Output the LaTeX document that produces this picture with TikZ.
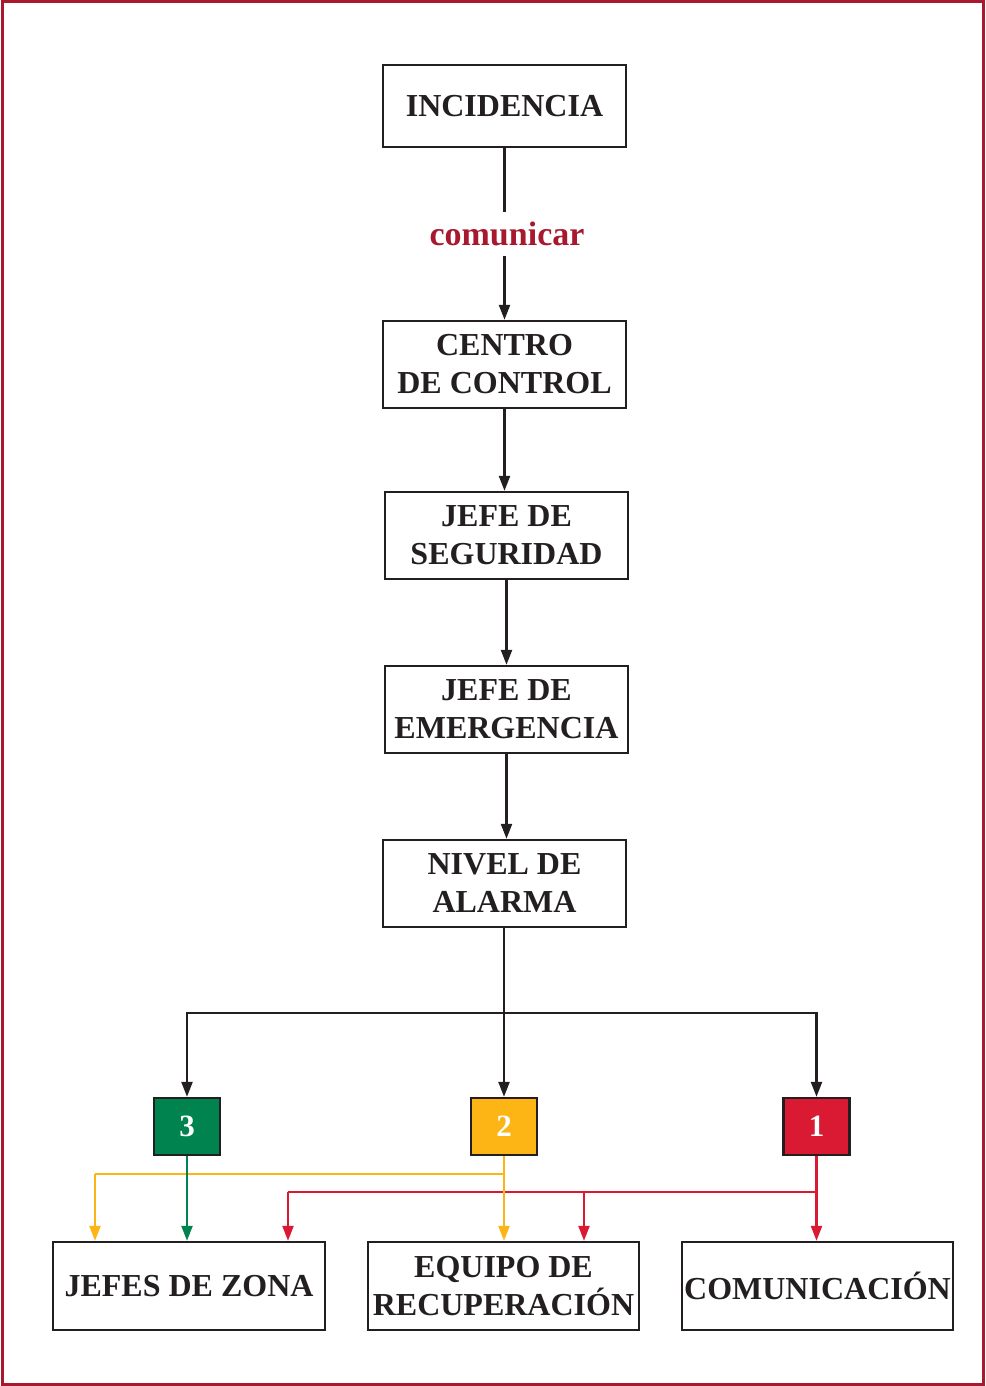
\documentclass[tikz,border=0pt]{standalone}
\usepackage{fontspec}
\setmainfont{Liberation Serif}
\usetikzlibrary{arrows.meta}
\definecolor{frame}{HTML}{A8182F}
\definecolor{maroon}{HTML}{A6192E}
\definecolor{lvgreen}{HTML}{00834F}
\definecolor{lvyellow}{HTML}{FDB515}
\definecolor{lvred}{HTML}{D91A32}
\definecolor{ink}{HTML}{231F20}
\tikzset{
  box/.style={draw=ink, line width=2.4pt, fill=white, inner sep=0pt, align=center,
    font=\fontsize{32}{38}\selectfont\bfseries, text=ink},
  level/.style={draw=ink, line width=2.4pt, inner sep=0pt, minimum width=66pt, minimum height=57pt,
    font=\fontsize{31}{36}\selectfont\bfseries, text=white},
  conn/.style={draw=ink, line width=2.3pt},
  arr/.style={conn, -{Triangle[length=15pt,width=11pt]}},
  carr/.style={line width=2.3pt, -{Triangle[length=15pt,width=11pt]}},
}
\begin{document}
\begin{tikzpicture}[x=1pt,y=-1pt]
\useasboundingbox (0,0) rectangle (985,1386);
\draw[frame, line width=3pt] (2,2) rectangle (983,1384);

\node[box, minimum width=243pt, minimum height=82pt] (inc) at (504.5,106) {INCIDENCIA};
\node[font=\fontsize{34}{38}\selectfont\bfseries, text=maroon, inner sep=0pt, minimum height=44pt] (com) at (507,234) {comunicar};
\node[box, minimum width=243pt, minimum height=87pt] (cen) at (504.5,364.5) {CENTRO\\DE CONTROL};
\node[box, minimum width=243pt, minimum height=87pt] (seg) at (506.5,535.5) {JEFE DE\\SEGURIDAD};
\node[box, minimum width=243pt, minimum height=87pt] (eme) at (506.5,709.5) {JEFE DE\\EMERGENCIA};
\node[box, minimum width=243pt, minimum height=87pt] (niv) at (504.5,883.5) {NIVEL DE\\ALARMA};

\node[level, fill=lvgreen] (b3) at (187,1126.5) {3};
\node[level, fill=lvyellow] (b2) at (504,1126.5) {2};
\node[level, fill=lvred] (b1) at (816.5,1126.5) {1};

\node[box, minimum width=272pt, minimum height=88pt] (zona) at (189,1286) {JEFES DE ZONA};
\node[box, minimum width=271pt, minimum height=88pt] (equ) at (503.5,1286) {EQUIPO DE\\RECUPERACIÓN};
\node[box, minimum width=271pt, minimum height=88pt] (comu) at (817.5,1286) {COMUNICACIÓN};

% main chain
\draw[conn] (inc.south) -- (inc.south |- com.north);
\draw[arr] (inc.south |- com.south) -- (cen.north);
\draw[arr] (cen.south) -- (cen.south |- seg.north);
\draw[arr] (seg.south) -- (seg.south |- eme.north);
\draw[arr] (eme.south) -- (eme.south |- niv.north);
\draw[arr] (niv.south -| b2.north) -- (b2.north);
\coordinate (split) at (504,1013);
\draw[arr] (split) -| (b3.north);
\draw[arr] (split) -| (b1.north);

% red (level 1)
\coordinate (rj) at (817,1192);
\coordinate (rz) at (288,1192);
\coordinate (re) at (584,1192);
\draw[carr, lvred] (b1.south) -- (b1.south |- comu.north);
\draw[line width=2.3pt, lvred] (rj) -- (rz);
\draw[carr, lvred] (rz) -- (rz |- zona.north);
\draw[carr, lvred] (re) -- (re |- equ.north);

% yellow (level 2)
\coordinate (yj) at (504,1174);
\coordinate (yz) at (95,1174);
\draw[carr, lvyellow] (b2.south) -- (b2.south |- equ.north);
\draw[line width=2.3pt, lvyellow] (yj) -- (yz);
\draw[carr, lvyellow] (yz) -- (yz |- zona.north);

% green (level 3)
\draw[carr, lvgreen] (b3.south) -- (b3.south |- zona.north);
\end{tikzpicture}
\end{document}
